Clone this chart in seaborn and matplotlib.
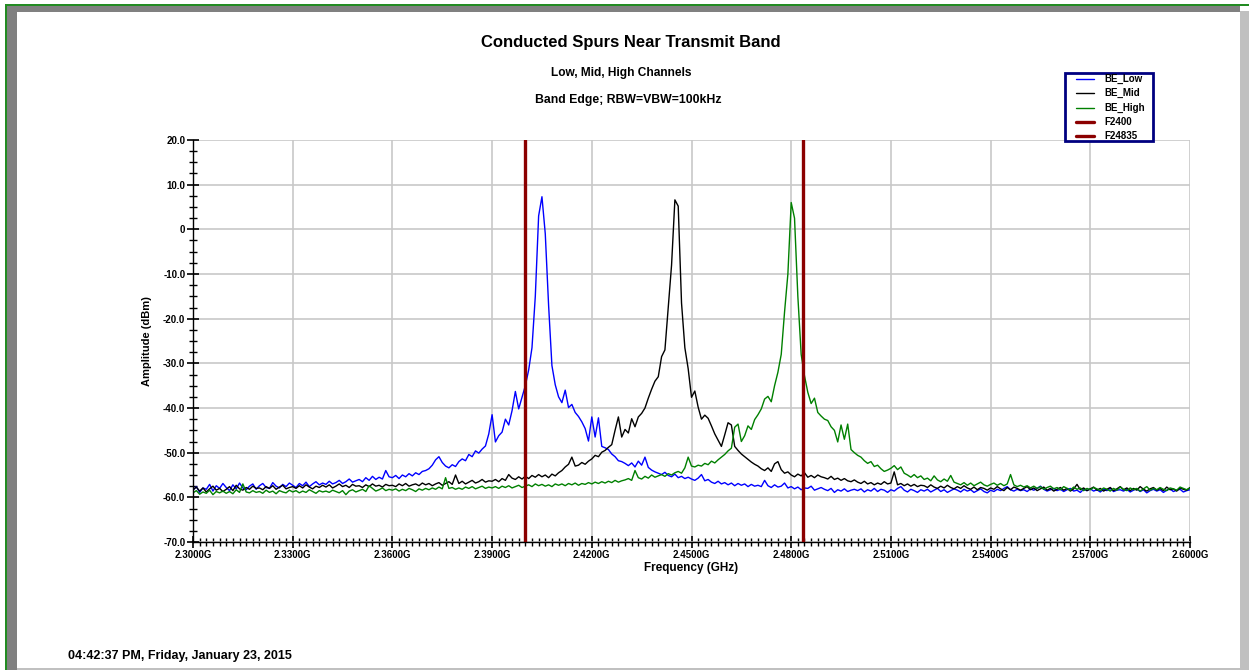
import numpy as np
import pandas as pd
import matplotlib
matplotlib.use("Agg")
import matplotlib.pyplot as plt
import seaborn as sns
from matplotlib.ticker import MultipleLocator, FuncFormatter
from matplotlib.patches import Rectangle
from matplotlib.lines import Line2D

# sweep: 2.300 GHz to 2.600 GHz, one reading per MHz
freq_start = 2.300
freq_step = 0.001

be_low = [
    -58.4, -57.6, -58.9, -57.9, -58.2, -57.1, -58.6, -57.4, -58.0, -56.9,
    -57.8, -58.5, -57.2, -58.1, -56.8, -57.9, -58.3, -57.5, -57.0, -58.2,
    -57.4, -56.9, -57.8, -58.0, -56.7, -57.5, -57.9, -57.1, -57.6, -56.8,
    -57.3, -57.8, -56.9, -57.4, -56.6, -57.6, -57.0, -56.5, -57.2, -56.8,
    -57.1, -56.4, -57.0, -56.7, -56.2, -56.9, -56.5, -55.9, -56.6, -56.3,
    -56.0, -56.5, -55.6, -56.2, -55.3, -56.0, -55.5, -55.9, -54.0, -55.4,
    -55.6, -55.1, -55.8, -55.0, -55.4, -54.7, -55.2, -54.5, -54.9, -54.2,
    -54.0, -53.6, -52.8, -51.6, -50.9, -52.2, -53.0, -53.4, -52.7, -53.1,
    -52.0, -51.4, -51.8, -50.4, -50.9, -49.6, -50.1, -49.2, -48.5, -45.8,
    -41.5, -47.6, -46.2, -45.4, -42.5, -43.8, -40.6, -36.3, -40.2, -37.6,
    -35.0, -31.5, -26.5, -15.0, 3.0, 7.3, -1.0, -17.0, -30.5, -34.8,
    -37.5, -38.8, -36.0, -39.9, -39.2, -41.0, -41.9, -43.1, -44.6, -47.4,
    -42.0, -46.5, -42.2, -48.6, -48.9, -49.3, -50.3, -50.9, -51.8, -52.0,
    -52.4, -52.9, -52.3, -53.2, -51.9, -52.8, -51.0, -53.3, -53.9, -54.3,
    -54.6, -54.9, -54.4, -55.1, -55.4, -54.8, -55.6, -55.3, -55.8, -55.5,
    -55.9, -56.2, -55.7, -54.9, -56.3, -56.0, -56.6, -56.9, -56.4, -57.0,
    -56.7, -57.2, -56.8, -57.4, -56.9, -57.3, -57.0, -57.6, -57.1, -57.5,
    -57.3, -57.6, -56.2, -57.4, -57.8, -57.2, -57.7, -57.5, -56.8, -57.9,
    -57.6, -58.1, -57.7, -58.3, -57.9, -58.0, -57.5, -58.4, -58.1, -57.8,
    -58.2, -58.5, -58.0, -58.9, -58.3, -58.6, -58.1, -58.7, -58.4, -58.2,
    -58.5, -58.1, -58.8, -58.3, -58.6, -58.0, -58.7, -58.2, -58.4, -58.9,
    -58.3, -58.6, -58.0, -57.6, -58.4, -58.8, -58.2, -58.5, -58.9, -58.3,
    -58.6, -58.2, -58.8, -58.4, -58.0, -58.7, -58.3, -58.9, -58.5, -58.1,
    -58.4, -58.8, -58.2, -58.6, -58.3, -58.9, -58.5, -58.1, -58.7, -59.0,
    -58.4, -58.7, -58.2, -58.5, -58.0, -57.6, -58.3, -58.6, -58.2, -58.5,
    -58.3, -58.7, -58.1, -58.4, -58.0, -57.5, -58.2, -58.6, -58.3, -58.0,
    -58.5, -58.2, -58.7, -58.3, -58.0, -58.6, -58.4, -58.9, -58.2, -58.5,
    -58.1, -58.6, -58.3, -58.8, -58.2, -58.5, -58.0, -58.7, -58.4, -58.3,
    -58.6, -58.2, -58.8, -58.4, -58.1, -58.7, -58.3, -59.0, -58.5, -58.2,
    -58.6, -58.3, -58.9, -58.4, -58.1, -58.7, -58.4, -58.2, -58.8, -58.5, -58.3,
]

be_mid = [
    -58.3, -57.7, -58.6, -57.9, -58.8, -58.1, -57.5, -58.4, -58.0, -58.7,
    -58.2, -57.6, -58.5, -57.3, -58.1, -58.4, -57.8, -58.2, -57.5, -58.0,
    -57.9, -58.3, -57.6, -58.0, -57.4, -58.2, -57.7, -57.3, -58.1, -57.8,
    -57.6, -58.0, -57.4, -57.9, -57.2, -57.7, -58.1, -57.5, -57.8, -57.3,
    -57.7, -57.2, -57.9, -57.5, -57.0, -57.6, -57.3, -57.8, -57.1, -57.5,
    -57.4, -57.8, -57.2, -57.6, -57.0, -57.5, -57.3, -57.7, -57.1, -57.4,
    -57.3, -57.6, -57.0, -57.4, -56.9, -57.5, -57.2, -57.0, -57.4, -56.8,
    -57.2, -56.9, -57.4, -57.0, -56.7, -57.3, -56.9, -56.5, -57.1, -55.0,
    -56.9, -56.4, -57.0, -56.6, -56.2, -56.8, -56.5, -56.0, -56.6, -56.3,
    -56.4, -56.0, -56.5, -55.8, -56.2, -54.9, -55.7, -56.0, -55.4, -55.9,
    -55.3, -55.8, -55.1, -55.5, -54.9, -55.4, -55.0, -55.6, -54.8, -55.2,
    -54.5, -54.0, -53.2, -52.6, -51.0, -53.0, -52.8, -52.2, -52.6, -51.9,
    -51.4, -50.6, -50.9, -49.9, -49.5, -48.8, -48.2, -45.0, -42.0, -46.5,
    -44.8, -45.6, -42.4, -44.2, -42.0, -41.2, -40.0, -37.8, -35.8, -34.0,
    -33.0, -28.5, -27.0, -17.5, -8.0, 6.6, 5.2, -16.5, -26.5, -31.2,
    -37.6, -36.2, -39.8, -42.5, -41.6, -42.3, -44.0, -45.8, -47.2, -48.6,
    -46.0, -43.3, -43.8, -48.6, -49.5, -50.3, -50.9, -51.5, -52.1, -52.6,
    -53.0, -53.6, -54.0, -53.4, -54.2, -52.5, -52.0, -53.8, -54.6, -54.3,
    -55.0, -55.4, -54.8, -55.2, -54.5, -55.5, -55.1, -55.6, -55.0, -55.4,
    -55.6, -55.9, -55.3, -56.0, -55.7, -56.2, -55.8, -56.3, -56.5, -56.1,
    -56.6, -56.9, -56.4, -57.0, -56.7, -57.2, -56.8, -57.1, -56.5, -57.0,
    -56.8, -54.3, -57.2, -56.9, -57.4, -57.0, -57.5, -57.1, -57.6, -57.3,
    -57.4, -57.8, -57.2, -57.7, -58.0, -57.5, -57.9, -57.3, -57.8, -58.1,
    -57.6, -58.0, -57.4, -57.9, -58.2, -57.7, -58.3, -57.8, -58.0, -58.4,
    -57.9, -58.2, -57.6, -58.1, -58.5, -57.8, -58.3, -57.7, -58.0, -58.4,
    -58.0, -57.6, -58.3, -57.9, -58.5, -58.1, -57.7, -58.4, -58.0, -58.6,
    -58.2, -57.8, -58.4, -58.0, -58.6, -58.1, -57.1, -58.3, -57.9, -58.5,
    -58.1, -57.7, -58.4, -58.0, -58.6, -58.2, -57.8, -58.5, -58.1, -57.6,
    -58.3, -57.9, -58.5, -58.0, -58.4, -57.6, -58.2, -58.6, -58.1, -57.8,
    -58.4, -58.0, -58.5, -57.7, -58.3, -58.1, -58.6, -57.9, -58.2, -58.4, -57.8,
]

be_high = [
    -59.0, -58.5, -59.3, -58.8, -59.1, -58.4, -59.4, -58.7, -59.0, -58.6,
    -59.1, -58.7, -59.2, -58.3, -58.9, -57.0, -58.8, -59.0, -58.5, -58.9,
    -58.7, -59.1, -58.4, -58.9, -58.6, -59.2, -58.5, -58.8, -59.0, -58.4,
    -58.8, -58.5, -59.0, -58.6, -58.9, -58.3, -58.7, -59.1, -58.5, -58.8,
    -58.6, -58.9, -58.4, -58.7, -59.0, -58.5, -59.4, -58.6, -58.3, -58.8,
    -58.5, -58.2, -58.7, -57.4, -58.0, -58.6, -58.3, -57.9, -58.5, -58.2,
    -58.4, -58.1, -58.6, -58.2, -58.5, -58.0, -58.3, -58.7, -58.1, -58.4,
    -58.0, -58.3, -57.9, -58.2, -57.7, -58.1, -55.6, -58.0, -57.8, -58.2,
    -57.9, -58.2, -57.7, -58.0, -57.6, -58.1, -57.8, -57.5, -58.0, -57.7,
    -57.9, -57.6, -58.0, -57.5, -57.8, -57.4, -57.9, -57.6, -57.3, -57.8,
    -57.5, -57.2, -57.6, -57.0, -57.4, -57.1, -57.5, -57.2, -57.6, -57.0,
    -57.3, -57.0, -57.4, -56.9, -57.2, -56.8, -57.3, -56.9, -57.1, -56.7,
    -57.0, -56.6, -56.9, -56.5, -56.8, -56.4, -56.7, -56.2, -56.6, -56.3,
    -56.1, -55.8, -56.2, -54.0, -55.6, -55.9, -55.3, -55.7, -55.0, -55.5,
    -55.2, -54.9, -55.3, -54.7, -55.0, -54.5, -54.2, -54.6, -53.4, -51.0,
    -53.0, -53.2, -52.8, -53.0, -52.4, -52.7, -51.9, -52.3, -51.6, -51.0,
    -50.4, -49.6, -49.0, -44.3, -43.6, -47.5, -46.2, -44.0, -44.8, -42.6,
    -41.5, -40.2, -38.0, -37.4, -38.6, -35.0, -32.0, -28.0, -18.5, -10.0,
    6.0, 2.5, -15.0, -28.0, -32.8, -36.5, -39.0, -37.8, -41.0, -41.8,
    -42.5, -42.8, -44.2, -45.0, -47.6, -43.8, -47.0, -43.6, -49.3, -50.0,
    -50.6, -51.0, -51.8, -52.4, -52.0, -53.1, -52.8, -53.6, -54.2, -53.9,
    -53.5, -52.9, -53.8, -53.2, -54.6, -55.0, -55.5, -54.9, -55.6, -55.2,
    -56.0, -55.7, -56.3, -55.2, -56.1, -56.5, -55.9, -56.4, -55.1, -56.6,
    -56.9, -57.2, -56.7, -57.3, -56.8, -57.4, -57.0, -56.6, -57.2, -57.5,
    -57.1, -56.8, -57.3, -56.9, -57.4, -57.0, -54.9, -57.2, -57.6, -57.3,
    -57.7, -57.4, -57.9, -57.5, -58.0, -57.6, -58.2, -57.8, -57.5, -58.1,
    -57.8, -58.3, -57.6, -58.0, -58.4, -57.7, -58.2, -57.9, -58.5, -58.0,
    -58.3, -57.8, -58.1, -58.5, -57.9, -58.2, -58.6, -58.0, -58.4, -57.7,
    -58.2, -58.5, -57.9, -58.3, -58.0, -58.6, -58.1, -57.6, -58.4, -58.0,
    -58.3, -57.8, -58.2, -58.5, -57.9, -58.1, -58.4, -57.7, -58.0, -58.3, -57.9,
]

trace_names = ["BE_Low", "BE_Mid", "BE_High"]
trace_colors = {"BE_Low": "#0000ff", "BE_Mid": "#000000", "BE_High": "#008000"}
marker_names = ["F2400", "F24835"]
marker_freqs = [2.4000, 2.4835]
marker_color = "#8b0000"

freq = np.round(freq_start + freq_step * np.arange(len(be_low)), 4)

df = pd.DataFrame({
    "Frequency": np.tile(freq, len(trace_names)),
    "Amplitude": np.concatenate([be_low, be_mid, be_high]),
    "Trace": np.repeat(trace_names, len(freq)),
})

sns.set_style("white")
plt.rcParams["font.family"] = ["Liberation Sans", "DejaVu Sans"]
plt.rcParams["font.weight"] = "bold"
plt.rcParams["text.color"] = "black"
plt.rcParams["axes.labelcolor"] = "black"
plt.rcParams["xtick.bottom"] = True
plt.rcParams["ytick.left"] = True

W, H = 1249, 670
fig = plt.figure(figsize=(W / 100, H / 100), dpi=100)
fig.patch.set_facecolor("white")


def box(x, y, w, h, color):
    fig.patches.append(Rectangle((x / W, 1 - (y + h) / H), w / W, h / H,
                                 transform=fig.transFigure, color=color,
                                 lw=0, zorder=0))


# window frame
box(1240, 11, 9, 659, "#c0c0c0")
box(7, 668, 1242, 2, "#c0c0c0")
box(7, 5, 10, 665, "#808080")
box(7, 6, 1233, 6, "#808080")
box(5, 5, 1.5, 665, "#228b22")
box(5, 4, 1244, 1.5, "#228b22")

ax = fig.add_axes([193 / W, 1 - 542 / H, 997 / W, 402 / H])

sns.lineplot(data=df, x="Frequency", y="Amplitude", hue="Trace",
             palette=trace_colors, hue_order=trace_names, estimator=None,
             sort=False, linewidth=1.0, legend=False, ax=ax)
for name, f in zip(marker_names, marker_freqs):
    ax.axvline(f, color=marker_color, linewidth=2.4, label=name, zorder=5)

ax.set_xlim(2.3, 2.6)
ax.set_ylim(-70, 20)
ax.xaxis.set_major_locator(MultipleLocator(0.03, offset=2.3))
ax.xaxis.set_minor_locator(MultipleLocator(0.002, offset=2.3))
ax.yaxis.set_major_locator(MultipleLocator(10))
ax.yaxis.set_minor_locator(MultipleLocator(2.5))
ax.xaxis.set_major_formatter(FuncFormatter(lambda v, p: f"{v:.4f}G"))
ax.yaxis.set_major_formatter(FuncFormatter(lambda v, p: "0" if abs(v) < 1e-9 else f"{v:.1f}"))

ax.set_axisbelow(True)
ax.grid(True, which="major", color="#c8c8c8", linewidth=1.2)
for s in ["top", "right"]:
    ax.spines[s].set_visible(False)
for s in ["left", "bottom"]:
    ax.spines[s].set_color("black")
    ax.spines[s].set_linewidth(1.0)
ax.tick_params(axis="both", which="major", direction="inout", length=9,
               width=1.2, labelsize=7, colors="black", pad=1,
               bottom=True, left=True)
ax.tick_params(axis="both", which="minor", direction="inout", length=6,
               width=1.0, colors="black", bottom=True, left=True)

ax.set_xlabel("Frequency (GHz)", fontsize=8.5, fontweight="bold")
ax.set_ylabel("Amplitude (dBm)", fontsize=8, fontweight="bold")
ax.xaxis.label.set_va("center")
ax.yaxis.label.set_va("center")
ax.xaxis.set_label_coords(0.4995, (542 - 568) / 402)
ax.yaxis.set_label_coords((147 - 193) / 997, 0.5)

fig.text(631 / W, 1 - 42 / H, "Conducted Spurs Near Transmit Band",
         ha="center", va="center", fontsize=12, fontweight="bold")
fig.text(621 / W, 1 - 73 / H, "Low, Mid, High Channels",
         ha="center", va="center", fontsize=8.6, fontweight="bold")
fig.text(628 / W, 1 - 100 / H, "Band Edge; RBW=VBW=100kHz",
         ha="center", va="center", fontsize=8.8, fontweight="bold")
fig.text(68 / W, 1 - 656 / H, "04:42:37 PM, Friday, January 23, 2015",
         ha="left", va="center", fontsize=9, fontweight="bold")

# legend box drawn in figure pixels, like the analyser software does
fig.patches.append(Rectangle((1065 / W, 1 - 141 / H), 88 / W, 68 / H,
                             transform=fig.transFigure, facecolor="white",
                             edgecolor="#000080", lw=2, zorder=10))
legend_labels = trace_names + marker_names
legend_colors = [trace_colors[n] for n in trace_names] + [marker_color] * 2
legend_widths = [1.0, 1.0, 1.0, 2.4, 2.4]
legend_rows = [79, 93, 107.5, 122, 136]
for lab, col, lw, yy in zip(legend_labels, legend_colors, legend_widths, legend_rows):
    fig.add_artist(Line2D([1076 / W, 1094 / W], [1 - yy / H, 1 - yy / H],
                          transform=fig.transFigure, color=col, lw=lw, zorder=11))
    fig.text(1104 / W, 1 - yy / H, lab, ha="left", va="center",
             fontsize=7, fontweight="bold", zorder=11)

fig.savefig("out.png", dpi=100, facecolor=fig.get_facecolor())
